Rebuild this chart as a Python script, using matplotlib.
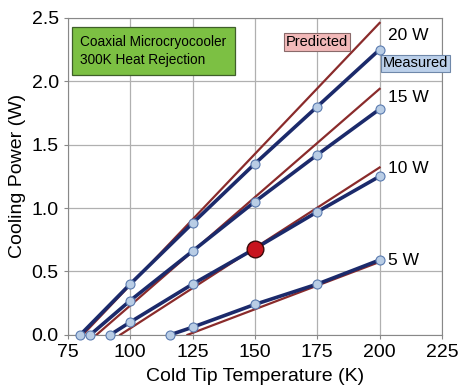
import numpy as np
import matplotlib
matplotlib.use('Agg')
import matplotlib.pyplot as plt

plt.rcParams['font.family'] = ['Liberation Sans', 'DejaVu Sans']

# measured cooling power (W) vs cold tip temperature (K)
temps_20 = [80, 100, 125, 150, 175, 200]
meas_20 = [0.0, 0.40, 0.88, 1.35, 1.80, 2.25]
temps_15 = [84, 100, 125, 150, 175, 200]
meas_15 = [0.0, 0.27, 0.66, 1.05, 1.42, 1.78]
temps_10 = [92, 100, 125, 150, 175, 200]
meas_10 = [0.0, 0.10, 0.40, 0.68, 0.97, 1.25]
temps_5 = [116, 125, 150, 175, 200]
meas_5 = [0.0, 0.06, 0.24, 0.40, 0.59]

# predicted lines (start, end)
pred_20_t = [81, 200]
pred_20_p = [0.0, 2.46]
pred_15_t = [86.5, 200]
pred_15_p = [0.0, 1.94]
pred_10_t = [96, 200]
pred_10_p = [0.0, 1.32]
pred_5_t = [123, 200]
pred_5_p = [0.0, 0.575]

op_point = (150, 0.68)
power_labels = ['20 W', '15 W', '10 W', '5 W']
label_y = [2.36, 1.87, 1.31, 0.59]

navy = '#1b2a6b'
brown = '#8a2b2b'
marker_fc = '#b9cde5'

fig = plt.figure(figsize=(4.58, 3.88), dpi=100)
ax = fig.add_axes([0.148, 0.137, 0.817, 0.817])

for t, p in [(pred_20_t, pred_20_p), (pred_15_t, pred_15_p),
             (pred_10_t, pred_10_p), (pred_5_t, pred_5_p)]:
    ax.plot(t, p, color=brown, lw=1.6, zorder=3)

for t, p in [(temps_20, meas_20), (temps_15, meas_15),
             (temps_10, meas_10), (temps_5, meas_5)]:
    ax.plot(t, p, color=navy, lw=2.6, marker='o', ms=6.5,
            mfc=marker_fc, mec='#5a7bb0', mew=0.8, zorder=4, clip_on=False)

ax.plot(*op_point, 'o', ms=12, mfc='#c8141e', mec='#3a0a0a', mew=1.0, zorder=5)

for lab, y in zip(power_labels, label_y):
    ax.text(203.5, y, lab, fontsize=12.5, va='center', ha='left')

ax.text(162.5, 2.31, 'Predicted', fontsize=10.5, va='center', ha='left',
        bbox=dict(boxstyle='square,pad=0.12', fc='#f2b9b9', ec='#8a6a6a', lw=0.8))
ax.text(201.3, 2.14, 'Measured', fontsize=10.5, va='center', ha='left',
        bbox=dict(boxstyle='square,pad=0.12', fc='#bcd0ea', ec='#6f88aa', lw=0.8))
ax.text(80, 2.24, 'Coaxial Microcryocooler\n300K Heat Rejection', fontsize=9.8,
        va='center', ha='left', linespacing=1.35,
        bbox=dict(boxstyle='square,pad=0.6', fc='#7cc043', ec='#3f5f2a', lw=0.9))

ax.set_xlim(75, 225)
ax.set_ylim(0, 2.5)
ax.set_xticks([75, 100, 125, 150, 175, 200, 225])
ax.set_yticks([0.0, 0.5, 1.0, 1.5, 2.0, 2.5])
ax.set_yticklabels(['0.0', '0.5', '1.0', '1.5', '2.0', '2.5'])
ax.tick_params(labelsize=14, length=3, color='#888888')
ax.grid(True, color='#b0b0b0', lw=0.9)
for s in ax.spines.values():
    s.set_color('#888888')
ax.set_xlabel('Cold Tip Temperature (K)', fontsize=14, labelpad=5)
ax.set_ylabel('Cooling Power (W)', fontsize=14, labelpad=4)

fig.savefig('out.png', dpi=100)
